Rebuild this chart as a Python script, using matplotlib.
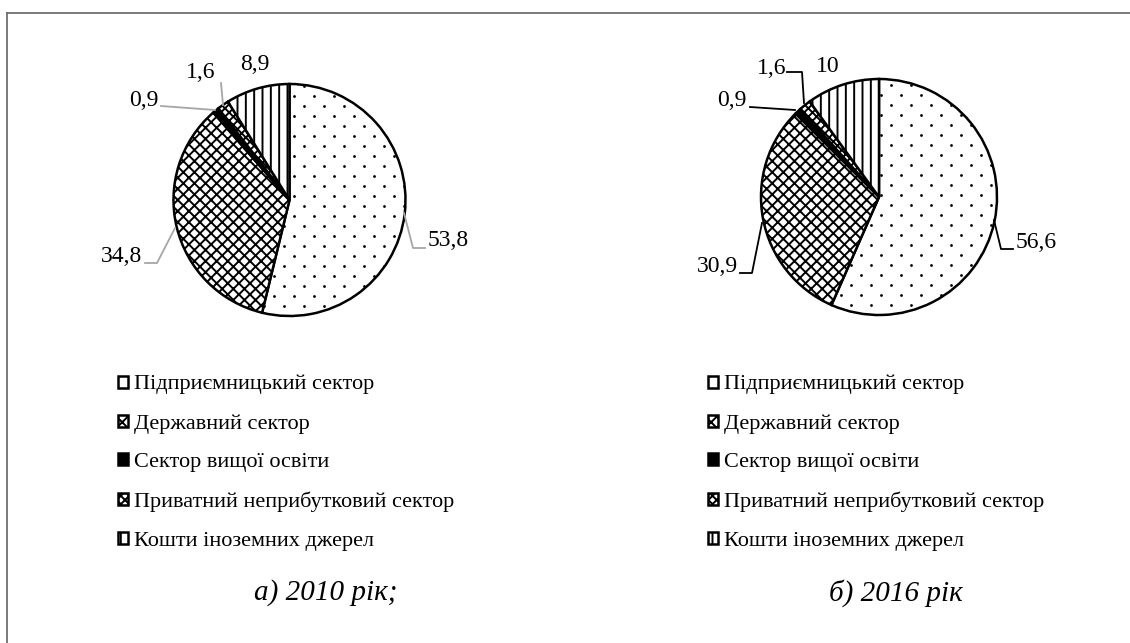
import matplotlib
matplotlib.use('Agg')
import matplotlib.pyplot as plt
from matplotlib.lines import Line2D
import numpy as np

plt.rcParams['font.family'] = ['Liberation Serif', 'DejaVu Serif']
plt.rcParams['hatch.linewidth'] = 1.4

# data
categories = ['Підприємницький сектор', 'Державний сектор', 'Сектор вищої освіти',
              'Приватний неприбутковий сектор', 'Кошти іноземних джерел']
values_2010 = [53.8, 34.8, 0.9, 1.6, 8.9]
values_2016 = [56.6, 30.9, 0.9, 1.6, 10]
labels_2010 = ['53,8', '34,8', '0,9', '1,6', '8,9']
labels_2016 = ['56,6', '30,9', '0,9', '1,6', '10']
captions = ['а) 2010 рік;', 'б) 2016 рік']

hatches = [None, 'xxx', None, 'xxxx', '||']
faces = ['white', 'white', 'black', 'white', 'white']

W, H = 1130, 643
fig = plt.figure(figsize=(W / 100, H / 100), dpi=100)
fig.patch.set_facecolor('white')

# frame (left and top edges visible)
fig.add_artist(Line2D([7 / W, 7 / W], [0, 1 - 13 / H], color='#707070', lw=1.3))
fig.add_artist(Line2D([7 / W, 1], [1 - 13 / H, 1 - 13 / H], color='#707070', lw=1.3))


def to_data(p, cx, cy, R):
    return ((p[0] - cx) / R, (cy - p[1]) / R)


def draw_pie(values, labels, cx, cy, R, lcolor, label_specs):
    ax = fig.add_axes([(cx - R) / W, (H - cy - R) / H, 2 * R / W, 2 * R / H])
    wedges, _ = ax.pie(values, startangle=90, counterclock=False, radius=1,
                       colors=faces,
                       wedgeprops=dict(edgecolor='black', linewidth=1.8))
    ax.set_xlim(-1, 1)
    ax.set_ylim(-1, 1)
    ax.axis('off')
    for w, h in zip(wedges, hatches):
        if h:
            w.set_hatch(h)

    # sparse dot texture for the first sector
    gx, gy = np.meshgrid(np.arange(-R, R, 20), np.arange(-R, R, 10))
    gx = gx + (np.arange(gy.shape[0])[:, None] % 2) * 10
    dots = ax.scatter(gx.ravel() / R, gy.ravel() / R, s=4, color='black',
                      lw=0, zorder=3)
    dots.set_clip_path(wedges[0])

    for lab, (tx, ty, ha, path) in zip(labels, label_specs):
        x, y = to_data((tx, ty), cx, cy, R)
        ax.text(x, y, lab, ha=ha, va='center', fontsize=17, clip_on=False)
        if path:
            pts = [to_data(p, cx, cy, R) for p in path]
            ax.plot([p[0] for p in pts], [p[1] for p in pts], color=lcolor,
                    lw=1.3, clip_on=False)
    return wedges


specs_2010 = [
    (428, 241, 'left', [(404, 213), (413, 248), (425, 248)]),
    (142, 257, 'right', [(175, 228), (157, 263), (145, 263)]),
    (158, 101, 'right', [(161, 106), (215, 110)]),
    (201, 73, 'center', [(221, 83), (223, 105)]),
    (255, 64, 'center', None),
]
specs_2016 = [
    (1016, 243, 'left', [(994, 220), (1001, 249), (1013, 249)]),
    (738, 267, 'right', [(762, 223), (752, 273), (740, 273)]),
    (747, 101, 'right', [(750, 107), (795, 110)]),
    (772, 68, 'center', [(787, 72), (802, 72), (804, 103)]),
    (828, 66, 'center', None),
]

w1 = draw_pie(values_2010, labels_2010, 289.5, 200, 116, '#a6a6a6', specs_2010)
w2 = draw_pie(values_2016, labels_2016, 879, 197, 118, 'black', specs_2016)

for wedges, x0 in [(w1, 118), (w2, 708)]:
    fig.legend(wedges, categories, loc='upper left',
               bbox_to_anchor=(x0 / W, 1 - 375 / H), frameon=False,
               fontsize=16, handlelength=0.45, handleheight=0.45,
               handletextpad=0.25, labelspacing=0.88, borderpad=0,
               borderaxespad=0)

fig.text(326 / W, 1 - 593 / H, captions[0], ha='center', va='center',
         fontsize=21, style='italic')
fig.text(896 / W, 1 - 593 / H, captions[1], ha='center', va='center',
         fontsize=21, style='italic')

fig.savefig('out.png', dpi=100, facecolor='white')
